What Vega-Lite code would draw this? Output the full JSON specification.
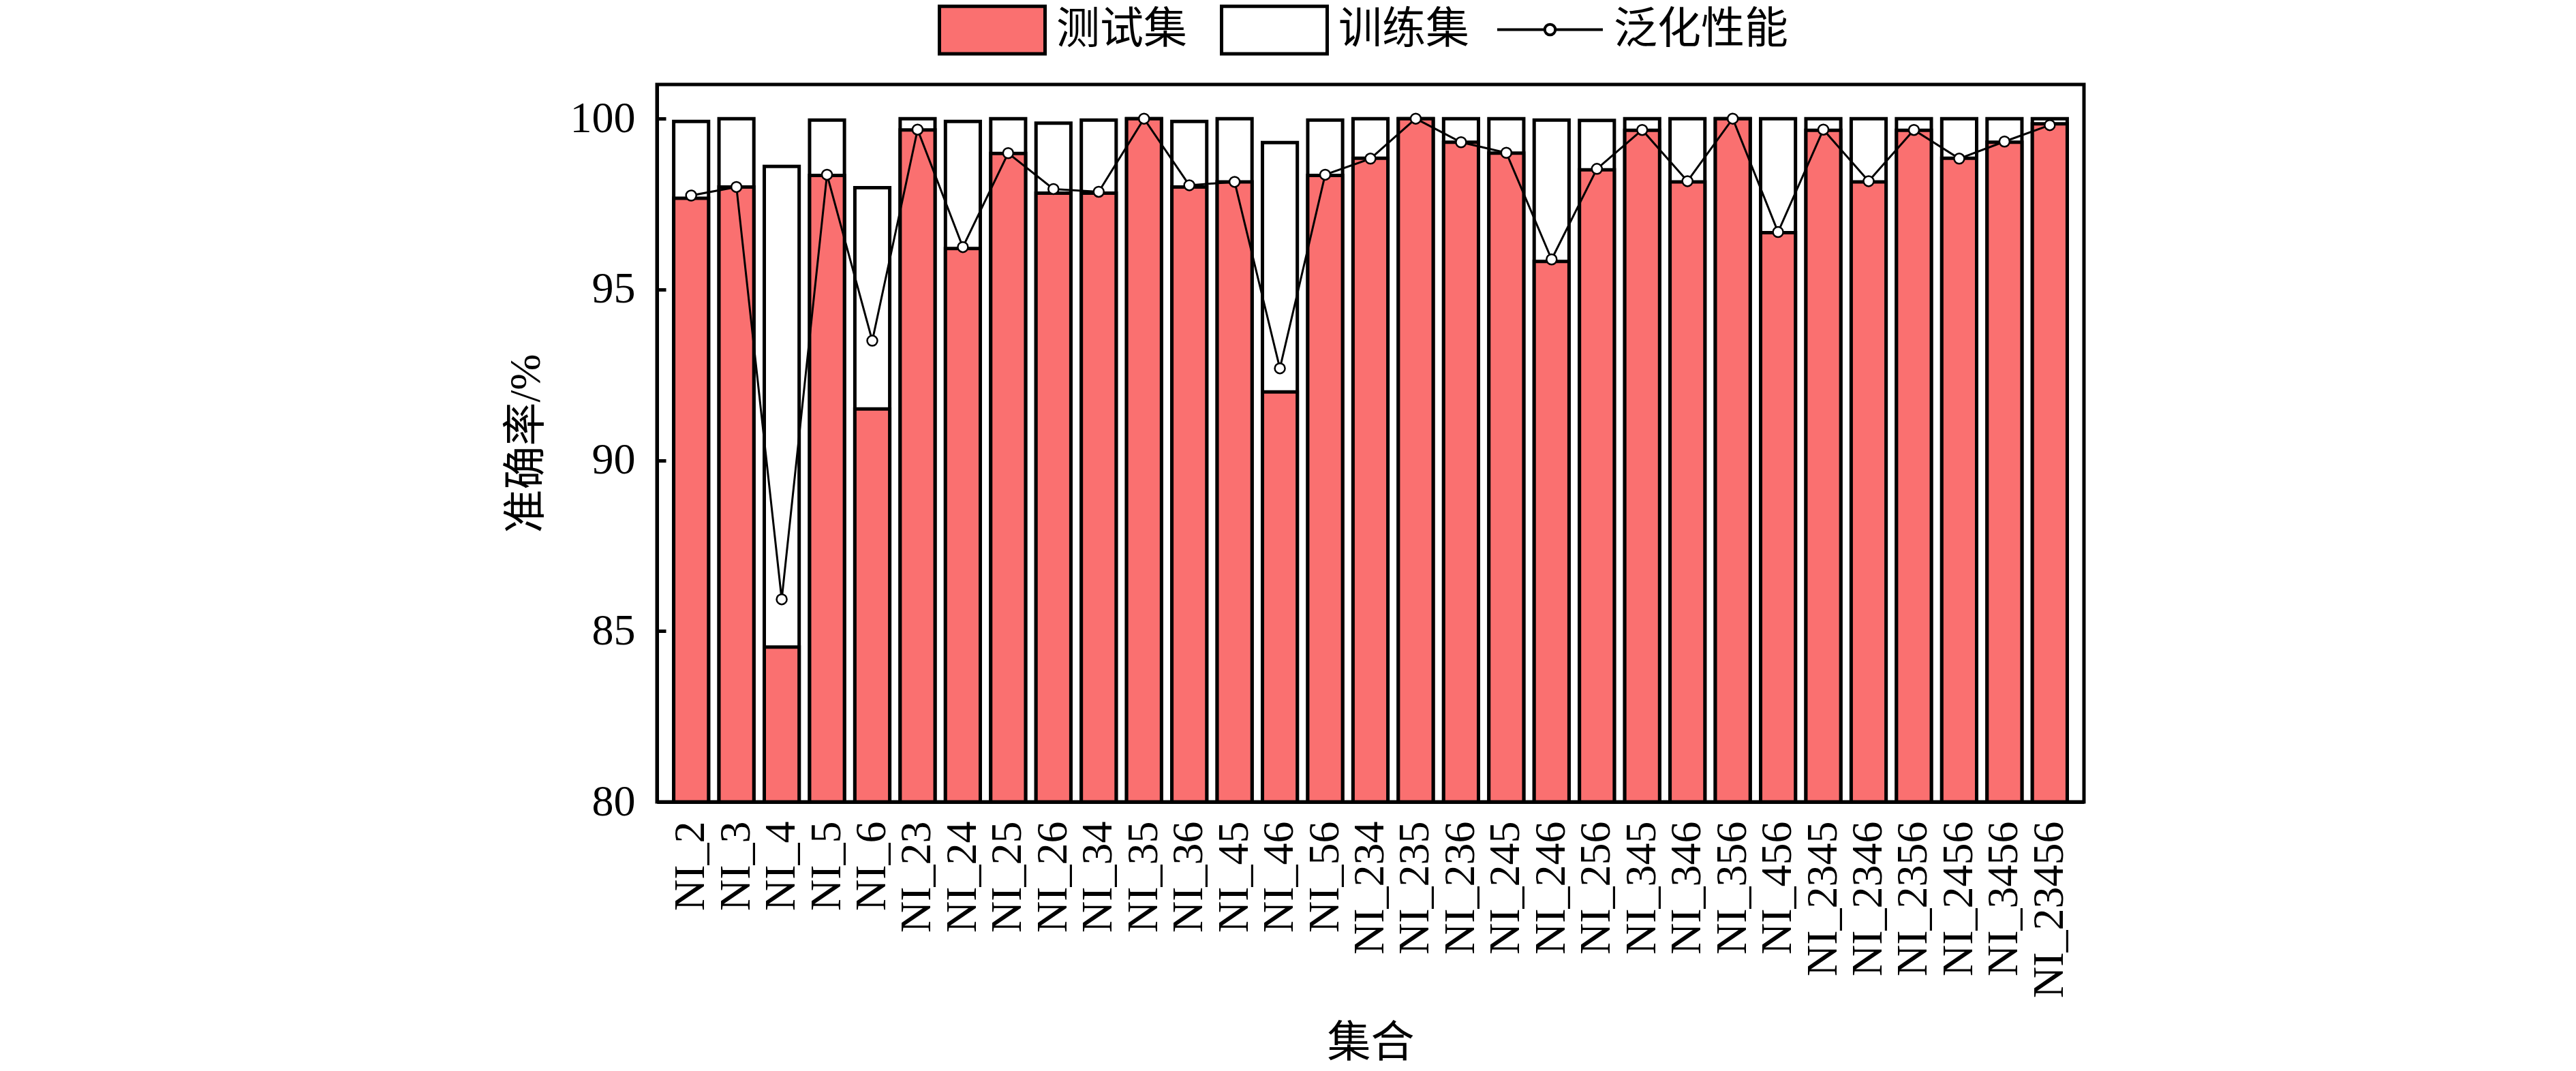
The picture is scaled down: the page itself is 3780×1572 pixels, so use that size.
{
  "$schema": "https://vega.github.io/schema/vega-lite/v6.json",
  "width": 2094,
  "height": 1053,
  "autosize": "none",
  "padding": {"left": 964, "top": 124, "right": 722, "bottom": 395},
  "background": "white",
  "config": {
    "font": "Liberation Serif, Noto Sans CJK SC",
    "view": {"stroke": "black", "strokeWidth": 5},
    "axis": {
      "grid": false,
      "domainColor": "black",
      "domainWidth": 5,
      "tickColor": "black",
      "tickWidth": 5,
      "tickSize": -13,
      "labelFont": "Liberation Serif",
      "labelFontSize": 64,
      "labelColor": "black",
      "labelLimit": 1000,
      "titleFont": "Liberation Serif, Noto Sans CJK SC",
      "titleFontSize": 64,
      "titleFontWeight": "normal",
      "titleColor": "black"
    },
    "legend": {
      "title": null,
      "orient": "none",
      "direction": "horizontal",
      "symbolSize": 24025,
      "labelFont": "Liberation Serif, Noto Sans CJK SC",
      "labelFontSize": 64,
      "labelColor": "black",
      "labelLimit": 1000,
      "labelOffset": 14,
      "columnPadding": 40,
      "symbolOpacity": 1
    }
  },
  "data": {
    "values": [
      {"set": "NI_2", "test": 97.67, "train": 99.92, "gen": 97.75},
      {"set": "NI_3", "test": 98.0, "train": 100.0, "gen": 98.0},
      {"set": "NI_4", "test": 84.53, "train": 98.6, "gen": 85.93},
      {"set": "NI_5", "test": 98.34, "train": 99.96, "gen": 98.36},
      {"set": "NI_6", "test": 91.5, "train": 97.98, "gen": 93.5},
      {"set": "NI_23", "test": 99.67, "train": 100.0, "gen": 99.68},
      {"set": "NI_24", "test": 96.2, "train": 99.92, "gen": 96.24},
      {"set": "NI_25", "test": 98.98, "train": 100.0, "gen": 98.99},
      {"set": "NI_26", "test": 97.82, "train": 99.87, "gen": 97.94},
      {"set": "NI_34", "test": 97.82, "train": 99.96, "gen": 97.86},
      {"set": "NI_35", "test": 100.0, "train": 100.0, "gen": 100.0},
      {"set": "NI_36", "test": 98.0, "train": 99.92, "gen": 98.05},
      {"set": "NI_45", "test": 98.15, "train": 100.0, "gen": 98.15},
      {"set": "NI_46", "test": 92.0, "train": 99.3, "gen": 92.69},
      {"set": "NI_56", "test": 98.34, "train": 99.96, "gen": 98.36},
      {"set": "NI_234", "test": 98.84, "train": 100.0, "gen": 98.83},
      {"set": "NI_235", "test": 100.0, "train": 100.0, "gen": 100.0},
      {"set": "NI_236", "test": 99.31, "train": 100.0, "gen": 99.31},
      {"set": "NI_245", "test": 98.99, "train": 100.0, "gen": 99.0},
      {"set": "NI_246", "test": 95.82, "train": 99.96, "gen": 95.88},
      {"set": "NI_256", "test": 98.5, "train": 99.95, "gen": 98.53},
      {"set": "NI_345", "test": 99.66, "train": 100.0, "gen": 99.67},
      {"set": "NI_346", "test": 98.15, "train": 100.0, "gen": 98.17},
      {"set": "NI_356", "test": 100.0, "train": 100.0, "gen": 100.0},
      {"set": "NI_456", "test": 96.66, "train": 100.0, "gen": 96.68},
      {"set": "NI_2345", "test": 99.66, "train": 100.0, "gen": 99.68},
      {"set": "NI_2346", "test": 98.15, "train": 100.0, "gen": 98.17},
      {"set": "NI_2356", "test": 99.66, "train": 100.0, "gen": 99.67},
      {"set": "NI_2456", "test": 98.84, "train": 100.0, "gen": 98.83},
      {"set": "NI_3456", "test": 99.31, "train": 100.0, "gen": 99.33},
      {"set": "NI_23456", "test": 99.85, "train": 100.0, "gen": 99.81}
    ]
  },
  "encoding": {
    "x": {
      "field": "set",
      "type": "nominal",
      "sort": null,
      "scale": {"paddingInner": 0.23, "paddingOuter": 0.37},
      "axis": {
        "title": "集合",
        "labelAngle": -90,
        "labelAlign": "right",
        "labelBaseline": "middle",
        "labelPadding": 41,
        "labelOverlap": false,
        "titleBaseline": "middle",
        "titleY": 354
      }
    }
  },
  "layer": [
    {
      "mark": {"type": "bar", "stroke": "black", "strokeWidth": 5},
      "encoding": {
        "y": {
          "field": "train",
          "type": "quantitative",
          "scale": {"domain": [80, 101], "nice": false, "zero": false},
          "axis": {
            "title": "准确率/%",
            "values": [80, 85, 90, 95, 100],
            "labelPadding": 45,
            "titlePadding": 32
          }
        },
        "y2": {"datum": 80},
        "fill": {
          "datum": "训练集",
          "scale": {
            "domain": ["测试集", "训练集"],
            "range": ["#FA7070", "white"]
          },
          "legend": {
            "legendX": 412,
            "legendY": -160,
            "symbolType": "M-1,-0.45H1V0.45H-1Z",
            "symbolStrokeColor": "black",
            "symbolStrokeWidth": 5
          }
        }
      }
    },
    {
      "mark": {"type": "bar", "stroke": "black", "strokeWidth": 5},
      "encoding": {
        "y": {"field": "test", "type": "quantitative"},
        "y2": {"datum": 80},
        "fill": {"datum": "测试集"}
      }
    },
    {
      "mark": {"type": "line", "strokeWidth": 3},
      "encoding": {
        "y": {"field": "gen", "type": "quantitative"},
        "stroke": {
          "datum": "泛化性能",
          "scale": {"domain": ["泛化性能"], "range": ["black"]},
          "legend": {
            "legendX": 1231,
            "legendY": -160,
            "symbolType": "M-1,0H-0.1M0.1,0H1M-0.1,0A0.1,0.1 0 1,0 0.1,0A0.1,0.1 0 1,0 -0.1,0Z",
            "symbolFillColor": "white",
            "symbolStrokeWidth": 4
          }
        }
      }
    },
    {
      "mark": {"type": "point", "shape": "circle", "filled": true, "fill": "white", "stroke": "black", "strokeWidth": 2.5, "size": 225, "opacity": 1},
      "encoding": {
        "y": {"field": "gen", "type": "quantitative"}
      }
    }
  ]
}
